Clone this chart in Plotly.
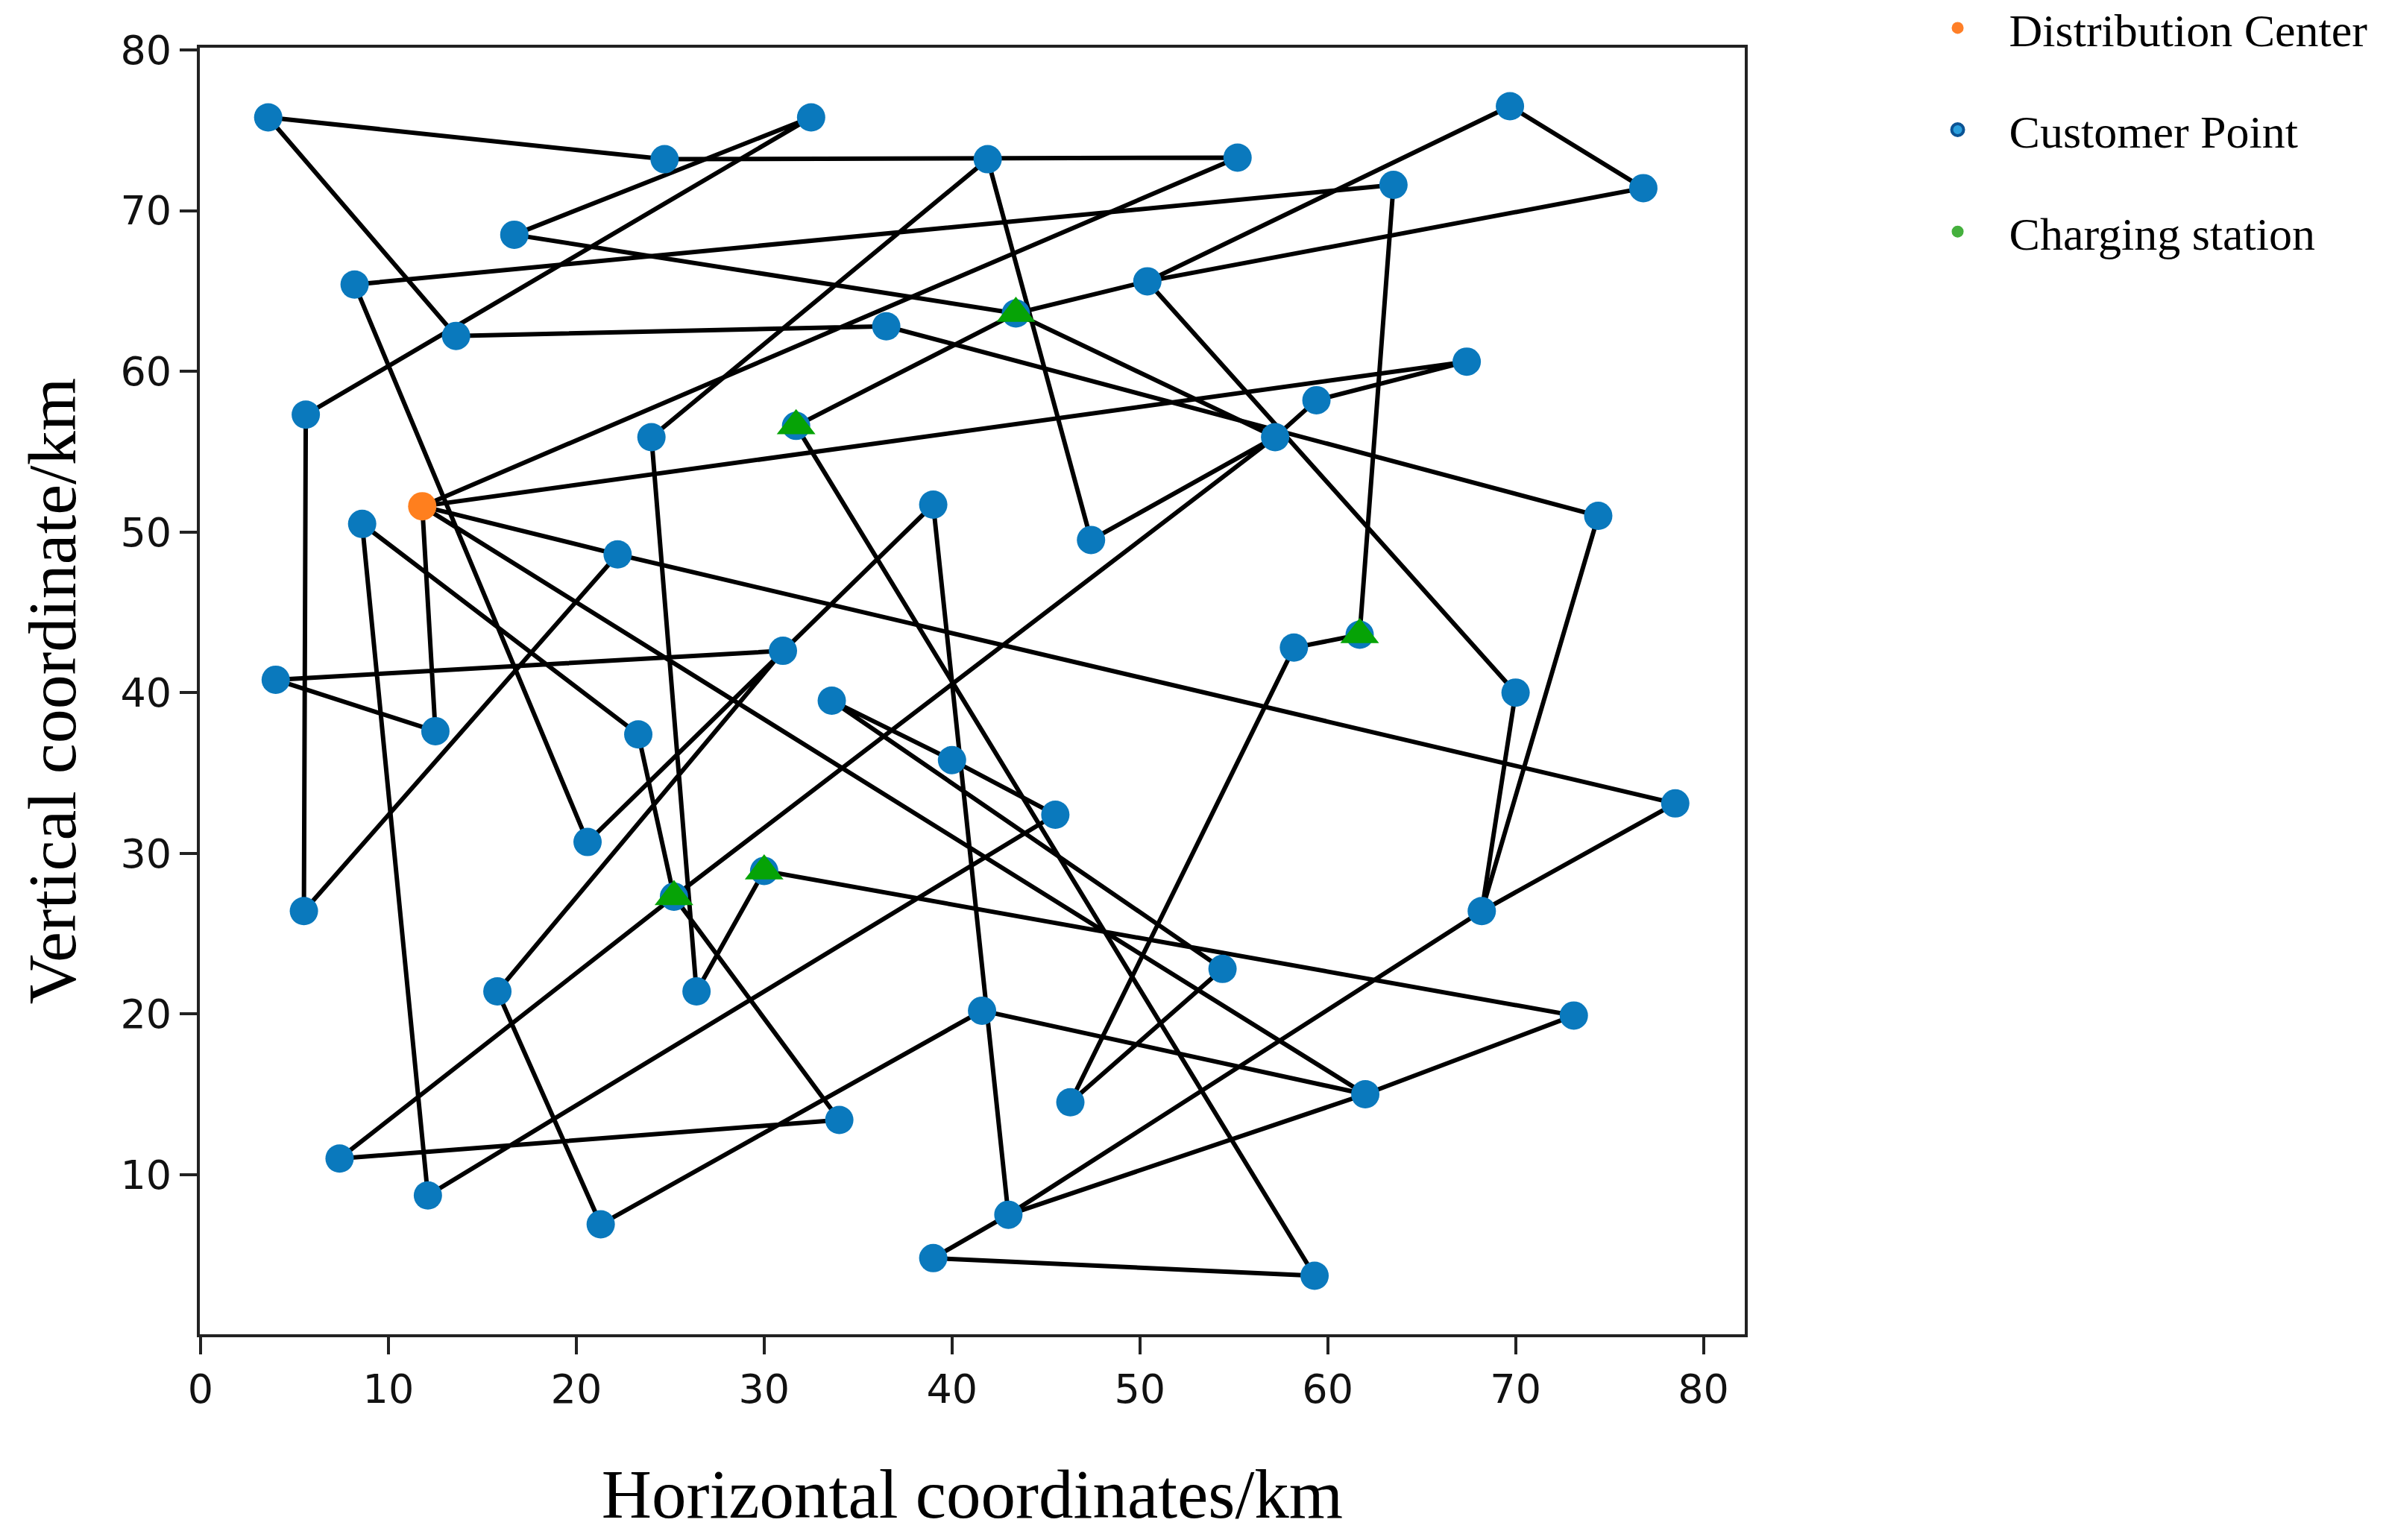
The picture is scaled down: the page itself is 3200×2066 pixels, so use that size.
import plotly.graph_objects as go

# ---- point data (km) ----
point_names = ["DC", "A", "B", "C", "D", "E", "F", "G", "H", "I", "J", "K", "L", "M",
               "N", "O", "P", "Q", "R", "S", "T", "U", "V", "W", "X", "Y", "Z",
               "AA", "AB", "AC", "AD", "AE", "AF", "AG", "AH", "AI", "AJ", "AK", "AL",
               "AM", "AN", "AO", "AP", "AQ", "AR", "AS", "AT", "AU", "AV", "AW", "AX",
               "AY", "AZ", "BA", "BB", "BC"]
point_x = [11.8, 3.6, 24.7, 32.5, 41.9, 55.2, 69.7, 76.8, 63.5, 16.7, 8.2, 50.4, 43.4, 13.6,
           36.5, 67.4, 5.6, 31.7, 24.0, 59.4, 57.2, 8.6, 39.0, 47.4, 74.4, 22.2, 4.0,
           31.0, 58.2, 61.7, 70.0, 12.5, 33.6, 23.3, 40.0, 45.5, 78.5, 20.6, 25.2,
           30.0, 5.5, 68.2, 54.4, 15.8, 26.4, 41.6, 73.1, 46.3, 62.0, 7.4, 34.0,
           12.1, 21.3, 43.0, 39.0, 59.3]
point_y = [51.6, 75.8, 73.2, 75.8, 73.2, 73.3, 76.5, 71.4, 71.6, 68.5, 65.4, 65.6, 63.6, 62.2,
           62.8, 60.6, 57.3, 56.6, 55.9, 58.2, 55.9, 50.5, 51.7, 49.5, 51.0, 48.6, 40.8,
           42.6, 42.8, 43.6, 40.0, 37.6, 39.5, 37.4, 35.8, 32.4, 33.1, 30.7, 27.3,
           28.9, 26.4, 26.4, 22.8, 21.4, 21.4, 20.2, 19.9, 14.5, 15.0, 11.0, 13.4,
           8.7, 6.9, 7.5, 4.8, 3.7]

depot_name = "DC"
charging_names = ["L", "Q", "AC", "AL", "AM"]

# ---- vehicle routes (sequence of visited points) ----
route_1 = ["DC", "E", "B", "A", "M", "N", "X", "AO", "AJ", "Y", "DC"]
route_2 = ["Y", "AN", "P", "C", "I", "L", "K", "F", "G", "K", "AD", "AO", "BA", "BB", "BC",
           "Q", "L", "T", "S", "O", "DC"]
route_3 = ["DC", "AV", "AT", "AM", "AR", "R", "D", "W", "T", "AL", "AW", "AX", "AL", "AG",
           "U", "AY", "AI", "AH", "AF", "AP", "AU", "AB", "AC", "H", "J", "AK", "V", "BA",
           "AV", "AS", "AZ", "AQ", "AA", "Z", "AE", "DC"]
routes = [route_1, route_2, route_3]

legend_labels = ["Distribution Center", "Customer Point", "Charging station"]

# ---- styles ----
BLUE = "#0A79BD"
ORANGE = "#FF7F1E"
GREEN = "#06A306"
SERIF = "Liberation Serif, Times New Roman, serif"
SANS = "DejaVu Sans, sans-serif"

idx = {n: i for i, n in enumerate(point_names)}

fig = go.Figure()

for r in routes:
    fig.add_trace(go.Scatter(
        x=[point_x[idx[p]] for p in r],
        y=[point_y[idx[p]] for p in r],
        mode="lines",
        line=dict(color="black", width=6),
        showlegend=False, hoverinfo="skip"))

cust = [n for n in point_names if n != depot_name]
fig.add_trace(go.Scatter(
    x=[point_x[idx[n]] for n in cust],
    y=[point_y[idx[n]] for n in cust],
    mode="markers",
    marker=dict(color=BLUE, size=38, line=dict(width=0)),
    showlegend=False, text=cust, hoverinfo="text"))

fig.add_trace(go.Scatter(
    x=[point_x[idx[n]] for n in charging_names],
    y=[point_y[idx[n]] for n in charging_names],
    mode="markers",
    marker=dict(color=GREEN, size=45, symbol="triangle-up", line=dict(width=0)),
    showlegend=False, hoverinfo="skip"))

fig.add_trace(go.Scatter(
    x=[point_x[idx[depot_name]]], y=[point_y[idx[depot_name]]],
    mode="markers",
    marker=dict(color=ORANGE, size=38, line=dict(width=0)),
    showlegend=False, hoverinfo="skip"))

# legend entries
legend_styles = [
    dict(color="#FF7F27", size=16, line=dict(width=0)),
    dict(color="#2A9FDD", size=16, line=dict(color="#0B5394", width=4)),
    dict(color="#45B03D", size=16, line=dict(width=0)),
]
for i, (lab, mk) in enumerate(zip(legend_labels, legend_styles)):
    fig.add_trace(go.Scatter(x=[None], y=[None], mode="markers", marker=mk,
                             name=lab, legendgroup=f"g{i}", showlegend=True))

axis_common = dict(
    showline=True, linecolor="#222222", linewidth=4, mirror=True,
    ticks="outside", ticklen=23, tickwidth=4, tickcolor="#222222",
    showgrid=False, zeroline=False, automargin=False,
    tickfont=dict(family=SANS, size=54, color="#111111"),
)

fig.update_layout(
    width=3200, height=2066,
    margin=dict(l=260, r=868, t=56, b=284, autoexpand=False),
    paper_bgcolor="white", plot_bgcolor="white",
    xaxis=dict(range=[-0.04, 82.2], tickmode="array", tickvals=list(range(0, 81, 10)),
               title=dict(text="Horizontal coordinates/km",
                          font=dict(family=SERIF, size=93, color="black"), standoff=78),
               **axis_common),
    yaxis=dict(range=[0.06, 80.14], tickmode="array", tickvals=list(range(10, 81, 10)),
               title=dict(text="Vertical coordinate/km",
                          font=dict(family=SERIF, size=92, color="black"), standoff=30),
               **axis_common),
    legend=dict(x=1.1045, y=1.0425, xanchor="left", yanchor="top",
                font=dict(family=SERIF, size=62, color="black"),
                itemwidth=128, tracegroupgap=53, bgcolor="rgba(0,0,0,0)"),
)

fig.write_html("out.html", config={"displayModeBar": False})
